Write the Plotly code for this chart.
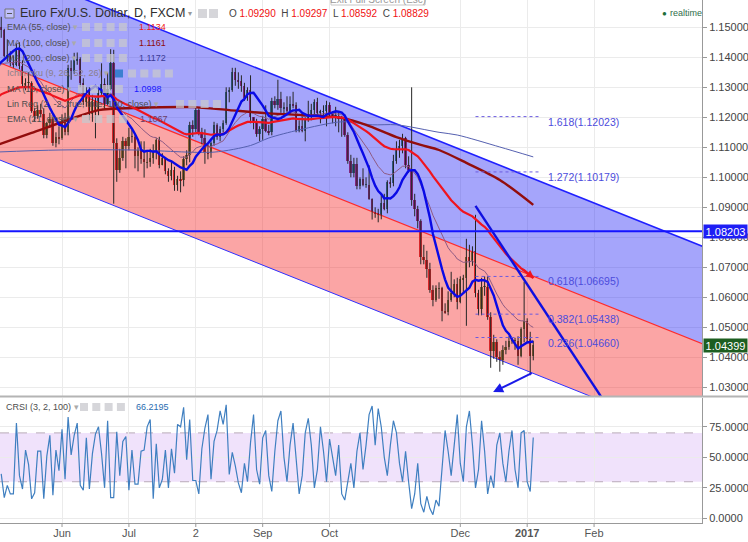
import plotly.graph_objects as go
import pandas as pd

# ---------------- data ----------------
# bar index 0 = 2016-05-02, one bar per business day, last bar 177 = 2017-01-04
opens = [1.1455,1.1530,1.1500,1.1490,1.1405,1.1405,1.1385,1.1375,1.1430,1.1370,
         1.1310,1.1315,1.1315,1.1220,1.1205,1.1225,1.1210,1.1140,1.1180,1.1195,
         1.1115,1.1135,1.1130,1.1190,1.1150,1.1365,1.1355,1.1390,1.1395,1.1315,
         1.1250,1.1285,1.1210,1.1255,1.1225,1.1280,1.1310,1.1245,1.1295,1.1380,
         1.1115,1.1025,1.1065,1.1120,1.1105,1.1135,1.1135,1.1070,1.1090,1.1060,
         1.1050,1.1050,1.1065,1.1090,1.1125,1.1040,1.1065,1.1020,1.1005,1.1025,
         1.0975,1.0995,1.0990,1.1060,1.1075,1.1175,1.1160,1.1225,1.1150,1.1130,
         1.1085,1.1080,1.1115,1.1175,1.1135,1.1160,1.1180,1.1285,1.1290,1.1350,
         1.1325,1.1320,1.1305,1.1265,1.1290,1.1200,1.1185,1.1145,1.1160,1.1195,
         1.1155,1.1150,1.1255,1.1240,1.1260,1.1230,1.1235,1.1220,1.1245,1.1240,
         1.1155,1.1170,1.1155,1.1190,1.1210,1.1225,1.1250,1.1215,1.1220,1.1220,
         1.1240,1.1210,1.1205,1.1205,1.1195,1.1200,1.1140,1.1055,1.1015,1.1045,
         1.0970,1.0995,1.0975,1.0975,1.0929,1.0883,1.0880,1.0875,1.0915,1.0895,
         1.0985,1.0980,1.1055,1.1095,1.1105,1.1130,1.1040,1.1025,1.0925,1.0895,
         1.0855,1.0735,1.0725,1.0695,1.0625,1.0590,1.0630,1.0630,1.0555,1.0550,
         1.0590,1.0615,1.0645,1.0585,1.0660,1.0665,1.0735,1.0720,1.0755,1.0615,
         1.0560,1.0635,1.0635,1.0535,1.0420,1.0450,1.0400,1.0390,1.0425,1.0435,
         1.0455,1.0455,1.0455,1.0405,1.0495,1.0520,1.0460,1.0405]
highs = [1.1536,1.1616,1.1535,1.1495,1.1460,1.1420,1.1405,1.1445,1.1450,1.1390,
         1.1330,1.1350,1.1320,1.1230,1.1240,1.1245,1.1230,1.1185,1.1215,1.1200,
         1.1150,1.1170,1.1210,1.1215,1.1375,1.1390,1.1415,1.1416,1.1400,1.1330,
         1.1300,1.1300,1.1275,1.1265,1.1295,1.1380,1.1330,1.1350,1.1427,1.1425,
         1.1130,1.1095,1.1135,1.1130,1.1165,1.1160,1.1140,1.1100,1.1120,1.1120,
         1.1085,1.1095,1.1110,1.1130,1.1135,1.1080,1.1065,1.1030,1.1055,1.1035,
         1.1005,1.1020,1.1070,1.1090,1.1185,1.1190,1.1235,1.1230,1.1165,1.1160,
         1.1110,1.1120,1.1185,1.1180,1.1170,1.1190,1.1300,1.1300,1.1365,1.1365,
         1.1350,1.1340,1.1315,1.1300,1.1340,1.1200,1.1195,1.1170,1.1205,1.1240,
         1.1175,1.1265,1.1270,1.1325,1.1285,1.1250,1.1270,1.1270,1.1285,1.1250,
         1.1190,1.1215,1.1200,1.1255,1.1245,1.1260,1.1265,1.1225,1.1240,1.1255,
         1.1250,1.1220,1.1235,1.1215,1.1205,1.1210,1.1150,1.1075,1.1065,1.1065,
         1.1000,1.1030,1.1000,1.1040,1.09297,1.0900,1.0895,1.0945,1.0945,1.0990,
         1.1000,1.1075,1.1120,1.1125,1.1145,1.1135,1.1070,1.1300,1.0945,1.0905,
         1.0860,1.0775,1.0755,1.0715,1.0640,1.0640,1.0650,1.0635,1.0580,1.0620,
         1.0685,1.0660,1.0665,1.0670,1.0675,1.0795,1.0775,1.0770,1.0875,1.0625,
         1.0665,1.0670,1.0670,1.0550,1.0475,1.0460,1.0420,1.0440,1.0455,1.0470,
         1.0465,1.0465,1.0470,1.0500,1.0652,1.0530,1.0485,1.0455]
lows = [1.1450,1.1495,1.1465,1.1400,1.1385,1.1370,1.1365,1.1370,1.1360,1.1300,
        1.1290,1.1300,1.1215,1.1185,1.1195,1.1200,1.1130,1.1130,1.1165,1.1105,
        1.1100,1.1110,1.1125,1.1140,1.1140,1.1325,1.1345,1.1375,1.1300,1.1240,
        1.1235,1.1190,1.1185,1.1130,1.1205,1.1275,1.1225,1.1240,1.1290,1.0912,
        1.0985,1.1015,1.1055,1.1030,1.1090,1.1115,1.1030,1.1020,1.1045,1.0999,
        1.1030,1.1035,1.1045,1.1060,1.1030,1.1040,1.1010,1.0985,1.0990,1.0955,
        1.0955,1.0950,1.0970,1.1040,1.1050,1.1135,1.1150,1.1140,1.1110,1.1045,
        1.1060,1.1065,1.1105,1.1125,1.1120,1.1150,1.1175,1.1250,1.1285,1.1305,
        1.1295,1.1285,1.1255,1.1255,1.1180,1.1160,1.1135,1.1120,1.1125,1.1150,
        1.1140,1.1140,1.1230,1.1225,1.1215,1.1200,1.1210,1.1210,1.1230,1.1150,
        1.1150,1.1150,1.1120,1.1185,1.1190,1.1205,1.1205,1.1180,1.1200,1.1170,
        1.1200,1.1180,1.1170,1.1150,1.1135,1.1135,1.1045,1.1000,1.1000,1.0960,
        1.0960,1.0970,1.0965,1.0925,1.08592,1.0865,1.0850,1.0860,1.0890,1.0880,
        1.0965,1.0970,1.1045,1.1065,1.1080,1.1030,1.1015,1.0905,1.0870,1.0830,
        1.0710,1.0710,1.0665,1.0615,1.0570,1.0585,1.0595,1.0520,1.0545,1.0540,
        1.0585,1.0600,1.0560,1.0580,1.0615,1.0505,1.0700,1.0705,1.0600,1.0540,
        1.0540,1.0605,1.0525,1.0365,1.0395,1.0385,1.0352,1.0375,1.0410,1.0425,
        1.0445,1.0425,1.0375,1.0400,1.0450,1.0450,1.0340,1.0390]
closes = [1.1530,1.1500,1.1490,1.1405,1.1405,1.1385,1.1375,1.1430,1.1370,1.1310,
          1.1315,1.1315,1.1220,1.1205,1.1225,1.1210,1.1140,1.1180,1.1195,1.1115,
          1.1135,1.1130,1.1190,1.1150,1.1365,1.1355,1.1390,1.1395,1.1315,1.1250,
          1.1285,1.1210,1.1255,1.1225,1.1280,1.1310,1.1245,1.1295,1.1380,1.1115,
          1.1025,1.1065,1.1120,1.1105,1.1135,1.1135,1.1070,1.1090,1.1060,1.1050,
          1.1050,1.1065,1.1090,1.1125,1.1040,1.1065,1.1020,1.1005,1.1025,1.0975,
          1.0995,1.0990,1.1060,1.1075,1.1175,1.1160,1.1225,1.1150,1.1130,1.1085,
          1.1080,1.1115,1.1175,1.1135,1.1160,1.1180,1.1285,1.1290,1.1350,1.1325,
          1.1320,1.1305,1.1265,1.1290,1.1200,1.1185,1.1145,1.1160,1.1195,1.1155,
          1.1150,1.1255,1.1240,1.1260,1.1230,1.1235,1.1220,1.1245,1.1240,1.1155,
          1.1170,1.1155,1.1190,1.1210,1.1225,1.1250,1.1215,1.1220,1.1220,1.1240,
          1.1210,1.1205,1.1205,1.1195,1.1200,1.1140,1.1055,1.1015,1.1045,1.0970,
          1.0995,1.0975,1.0975,1.0929,1.0883,1.0880,1.0875,1.0915,1.0895,1.0985,
          1.0980,1.1055,1.1095,1.1105,1.1130,1.1040,1.1025,1.0925,1.0895,1.0855,
          1.0735,1.0725,1.0695,1.0625,1.0590,1.0630,1.0630,1.0555,1.0550,1.0590,
          1.0615,1.0645,1.0585,1.0660,1.0665,1.0735,1.0720,1.0755,1.0615,1.0560,
          1.0635,1.0635,1.0535,1.0420,1.0450,1.0400,1.0390,1.0425,1.0435,1.0455,
          1.0455,1.0455,1.0405,1.0495,1.0520,1.0460,1.0405,1.0440]

month_tick_idx = [22, 44, 66, 88, 110, 153, 175, 197]
month_tick_text = ['Jun', 'Jul', '2', 'Sep', 'Oct', 'Dec', '<b>2017</b>', 'Feb']
price_ticks = [1.03, 1.04, 1.05, 1.06, 1.07, 1.08, 1.09, 1.10, 1.11, 1.12, 1.13, 1.14, 1.15]
crsi_ticks = [0, 25, 50, 75]

# moving-average readings
ma10_head = [1.1368, 1.1374, 1.1384, 1.1394, 1.1404, 1.1414, 1.1421, 1.1428, 1.1429]
ema21_seed = 1.1335
ema55_seed = 1.1250
ma100_idx = [0, 12, 24, 34, 46, 65, 77, 89, 100, 114, 122, 132, 140, 146, 155, 166, 177]
ma100_val = [1.1105, 1.1148, 1.1191, 1.1224, 1.1231, 1.1234, 1.1224, 1.1214, 1.1208,
             1.1198, 1.1175, 1.1134, 1.1108, 1.1091, 1.1048, 1.0991, 1.0908]
ma200_idx = [0, 21, 46, 72, 84, 90, 100, 114, 124, 132, 146, 152, 166, 177]
ma200_val = [1.1084, 1.1091, 1.1091, 1.1084, 1.1106, 1.1131, 1.1158, 1.1185, 1.1175,
             1.1175, 1.1150, 1.1141, 1.1101, 1.1068]

# regression channel (upper / middle / lower) end points
chan_idx = [0, 240]
chan_upper = [1.1713, 1.0740]
chan_mid = [1.1388, 1.0415]
chan_lower = [1.1064, 1.0091]

hline_level = 1.08203
last_price = 1.04399

fib_names = ['1.618', '1.272', '0.618', '0.382', '0.236']
fib_levels = [1.12023, 1.10179, 1.06695, 1.05438, 1.04660]
fib_span = [158, 179]

trend_idx = [158, 205]
trend_val = [1.0905, 1.0181]
arrow_tail = [177, 1.0350]
arrow_head = [163.8, 1.0284]

crsi_start = 2
crsi_vals = [36.5,17,27,20,20,78,35,24,56,44,16,21,55,55,16,51,68,19,56,39,73,32,83,52,68,78,27,23,
             66,24,53,69,75,53,25,80,17,17,71,35,63,67,23,56,28,28,55,56,75,81,16,61,25,32,56,25,
             57,37,77,75,91,48,81,31,31,20,57,74,85,32,63,72,88,77,93,36,54,43,29,21,
             45,30,62,85,40,28,66,72,35,22,55,80,88,50,30,60,78,45,20,35,70,82,60,25,40,75,55,30,65,
             50,35,60,20,15,30,45,25,55,70,40,60,85,92,60,90,75,50,35,60,80,70,45,30,55,
             30,8,20,45,12,5,18,8,3,15,10,40,72,55,35,
             60,85,45,30,75,88,60,25,40,80,55,20,35,25,60,70,45,30,55,72,40,25,70,72,30,22,66.2195]
crsi_band = [30, 70]

hover_ohlc = ['1.09290', '1.09297', '1.08592', '1.08829']
legend_rows = ['EMA (55, close)', 'MA (100, close)', 'MA (200, close)', 'Ichimoku (9, 26, 52, 26)',
               'MA (10, close)', 'Lin Reg (2, -2, true, true, 100, close)', 'EMA (21, close)']
legend_vals = ['1.1134', '1.1161', '1.1172', '', '1.0998', '', '1.1067']

# ---------------- indicators ----------------
n = len(closes)
idx = list(range(n))
cs = pd.Series(closes)
ma10 = list(ma10_head) + list(cs.rolling(10).mean().iloc[len(ma10_head):])
ema21 = list(pd.Series([ema21_seed] + closes).ewm(span=21, adjust=False).mean().iloc[1:])
ema55 = list(pd.Series([ema55_seed] + closes).ewm(span=55, adjust=False).mean().iloc[1:])

# ---------------- geometry helpers ----------------
W, H = 748, 542
ML, MR, MT, MB = 0, 46, 0, 19
PW, PH = W - ML - MR, H - MT - MB


def px(x):
    return x / PW


def py(y):
    return 1 - y / PH


FONT = 'Liberation Sans, Arial, sans-serif'
BLUE_LINE = '#1414ff'

fig = go.Figure()

# channel fills
fig.add_trace(go.Scatter(x=[chan_idx[0], chan_idx[1], chan_idx[1], chan_idx[0]],
                         y=[chan_upper[0], chan_upper[1], chan_mid[1], chan_mid[0]],
                         fill='toself', fillcolor='rgba(40,40,245,0.42)', line=dict(width=0),
                         mode='lines', hoverinfo='skip'))
fig.add_trace(go.Scatter(x=[chan_idx[0], chan_idx[1], chan_idx[1], chan_idx[0]],
                         y=[chan_mid[0], chan_mid[1], chan_lower[1], chan_lower[0]],
                         fill='toself', fillcolor='rgba(245,40,40,0.42)', line=dict(width=0),
                         mode='lines', hoverinfo='skip'))
fig.add_trace(go.Scatter(x=chan_idx, y=chan_upper, mode='lines', line=dict(color='#2020ff', width=1.6)))
fig.add_trace(go.Scatter(x=chan_idx, y=chan_mid, mode='lines', line=dict(color='#ff2a2a', width=1.2)))
fig.add_trace(go.Scatter(x=chan_idx, y=chan_lower, mode='lines', line=dict(color='#3030ff', width=1)))

# wicks
wx, wy = [], []
for i in idx:
    wx += [i, i, None]
    wy += [lows[i], highs[i], None]
fig.add_trace(go.Scatter(x=wx, y=wy, mode='lines', line=dict(color='#262626', width=1)))

# bodies
body_base = [min(o, c) for o, c in zip(opens, closes)]
body_h = [max(abs(c - o), 0.0001) for o, c in zip(opens, closes)]
body_col = ['#37853a' if c >= o else '#c3262a' for o, c in zip(opens, closes)]
fig.add_trace(go.Bar(x=idx, y=body_h, base=body_base, width=0.62,
                     marker=dict(color=body_col, line=dict(width=0))))

# moving averages
fig.add_trace(go.Scatter(x=ma200_idx, y=ma200_val, mode='lines',
                         line=dict(color='#5560b0', width=1, shape='spline', smoothing=0.8)))
fig.add_trace(go.Scatter(x=idx, y=ema21, mode='lines', line=dict(color='#8e5a84', width=1)))
fig.add_trace(go.Scatter(x=ma100_idx, y=ma100_val, mode='lines',
                         line=dict(color='#920d0d', width=2.4, shape='spline', smoothing=0.8)))
fig.add_trace(go.Scatter(x=idx, y=ema55, mode='lines', line=dict(color='#f0141e', width=2.2)))
fig.add_trace(go.Scatter(x=idx, y=ma10, mode='lines', line=dict(color='#0a0ae6', width=2.4)))

# trend line
fig.add_trace(go.Scatter(x=trend_idx, y=trend_val, mode='lines', line=dict(color='#1010e0', width=2.4)))

# fib levels
for lv in fib_levels:
    fig.add_trace(go.Scatter(x=fib_span, y=[lv, lv], mode='lines',
                             line=dict(color='#6a5ae0', width=1, dash='dot')))

# CRSI
fig.add_trace(go.Scatter(x=list(range(crsi_start, crsi_start + len(crsi_vals))), y=crsi_vals,
                         mode='lines', line=dict(color='#3f7fc0', width=1.2), yaxis='y2'))

shapes = []
annotations = []

# horizontal level
shapes.append(dict(type='line', xref='paper', yref='y', x0=0, x1=1, y0=hline_level, y1=hline_level,
                   line=dict(color=BLUE_LINE, width=2), layer='above'))
# CRSI band
shapes.append(dict(type='rect', xref='paper', yref='y2', x0=0, x1=1, y0=crsi_band[0], y1=crsi_band[1],
                   fillcolor='#f0e2fb', line=dict(width=0), layer='below'))
for b in crsi_band:
    shapes.append(dict(type='line', xref='paper', yref='y2', x0=0, x1=1, y0=b, y1=b,
                       line=dict(color='#b9aab9', width=1, dash='dash'), layer='below'))
# pane separator
shapes.append(dict(type='line', xref='paper', yref='paper', x0=0, x1=W / PW, y0=py(396.5), y1=py(396.5),
                   line=dict(color='#b4b4b4', width=2), layer='above'))
# x tick marks (drawn so the month labels can sit close to the axis)
for t in month_tick_idx:
    shapes.append(dict(type='line', xref='x', yref='paper', x0=t, x1=t, y0=py(523), y1=py(527),
                       line=dict(color='#999', width=1), layer='above'))

# arrows
annotations.append(dict(x=arrow_head[0], y=arrow_head[1], ax=arrow_tail[0], ay=arrow_tail[1],
                        xref='x', yref='y', axref='x', ayref='y', showarrow=True, arrowhead=2,
                        arrowsize=1, arrowwidth=2, arrowcolor='#1a1ae8', text=''))
annotations.append(dict(x=177.3, y=ema55[-1], ax=173, ay=ema55[-5], xref='x', yref='y', axref='x',
                        ayref='y', showarrow=True, arrowhead=2, arrowsize=0.8, arrowwidth=2,
                        arrowcolor='#f0141e', text=''))

# fib labels
for nm, lv in zip(fib_names, fib_levels):
    annotations.append(dict(x=181.2, y=lv, xref='x', yref='y', text=f'{nm}({lv:.5f})', showarrow=False,
                            xanchor='left', yanchor='middle', yshift=-5,
                            font=dict(family=FONT, size=10.5, color='#4c4cdc')))

# axis price labels
annotations.append(dict(x=1.0015, y=hline_level, xref='paper', yref='y', text=f'{hline_level:.5f}',
                        showarrow=False, xanchor='left', yanchor='middle', bgcolor='#1e1ef5',
                        width=43, height=13, borderpad=0,
                        font=dict(family=FONT, size=11, color='white')))
annotations.append(dict(x=1.0015, y=last_price, xref='paper', yref='y', text=f'{last_price:.5f}',
                        showarrow=False, xanchor='left', yanchor='middle', bgcolor='#1d5e20',
                        width=43, height=13, borderpad=0,
                        font=dict(family=FONT, size=11, color='white')))


def text_at(x, y, t, size, color, anchor='left'):
    annotations.append(dict(x=px(x), y=py(y), xref='paper', yref='paper', text=t, showarrow=False,
                            xanchor=anchor, yanchor='middle', font=dict(family=FONT, size=size, color=color)))


def btn(x0, yc, w=8, color='rgba(200,200,205,0.75)'):
    shapes.append(dict(type='rect', xref='paper', yref='paper', x0=px(x0), x1=px(x0 + w),
                       y0=py(yc + w / 2), y1=py(yc - w / 2), fillcolor=color,
                       line=dict(width=0), layer='above'))


# title row
shapes.append(dict(type='rect', xref='paper', yref='paper', x0=px(5), x1=px(14), y0=py(18), y1=py(9),
                   line=dict(color='#777', width=1), fillcolor='rgba(255,255,255,0.3)', layer='above'))
shapes.append(dict(type='line', xref='paper', yref='paper', x0=px(7), x1=px(12), y0=py(13.5), y1=py(13.5),
                   line=dict(color='#555', width=1), layer='above'))
text_at(18, 13.5, 'Euro Fx/U.S. Dollar, D, FXCM', 12.5, '#2f2f2f')
text_at(186, 13.5, '▾', 8, '#999')
btn(198, 13.5, 9)
btn(209, 13.5, 9)
ohlc_txt = ('O <span style="color:#f01010">%s</span>  H <span style="color:#f01010">%s</span>  '
            'L <span style="color:#f01010">%s</span>  C <span style="color:#f01010">%s</span>') % tuple(hover_ohlc)
text_at(227, 13.5, ohlc_txt, 10, '#444')
text_at(660, 13.5, '●', 8, '#1f6f3a')
text_at(668, 13.5, 'realtime', 9, '#2f6d4a')

# exit full screen tooltip (cut by the top edge)
shapes.append(dict(type='rect', xref='paper', yref='paper', x0=px(331), x1=px(425), y0=py(5), y1=py(-12),
                   fillcolor='white', line=dict(color='#c8c8c8', width=1), layer='above'))
text_at(378, -1, 'Exit Full Screen (Esc)', 10, '#999', anchor='center')

# indicator legend rows
row_y = [27, 43, 58, 73.5, 89, 104, 119]
val_x = [137, 137, 137, None, 132, None, 138]
val_col = ['#f01818', '#8e0c0c', '#3a3a96', None, '#1a1aff', None, '#6a3d66']
btn_x = [82, 82, 82, 128, 78, 176, 82]
for k, (lab, yv) in enumerate(zip(legend_rows, row_y)):
    col = '#8a7f8a' if k == 3 else '#4e4e4e'
    text_at(5, yv, lab + ' <span style="color:#aaa">▾</span>', 9, col)
    for b in range(4):
        btn(btn_x[k] + b * 12.3, yv)
    if legend_vals[k]:
        text_at(val_x[k], yv, legend_vals[k], 9, val_col[k])
btn(115, 73.5, 8, '#3b7fd0')

# CRSI legend
text_at(4, 407, 'CRSI (3, 2, 100) <span style="color:#aaa">▾</span>', 9, '#4e4e4e')
for b in range(4):
    btn(80 + b * 12.3, 407)
text_at(134, 407, f'{crsi_vals[-1]:.4f}', 9, '#2a6cb0')

fig.update_layout(
    width=W, height=H, margin=dict(l=ML, r=MR, t=MT, b=MB),
    paper_bgcolor='white', plot_bgcolor='white', showlegend=False, hovermode=False,
    bargap=0, shapes=shapes, annotations=annotations,
    font=dict(family=FONT, size=11, color='#555'),
    xaxis=dict(range=[1.6, 232.5], tickvals=month_tick_idx, ticktext=month_tick_text,
               showgrid=True, gridcolor='#ebebeb', gridwidth=1, zeroline=False,
               ticks='', showline=True, linecolor='#999',
               anchor='y2', tickfont=dict(family=FONT, size=11, color='#555'),
               rangeslider=dict(visible=False), fixedrange=True),
    yaxis=dict(domain=[1 - 396 / PH, 1], range=[1.0271, 1.1591], side='right', tickvals=price_ticks,
               tickformat='.5f', showgrid=True, gridcolor='#ebebeb', zeroline=False,
               ticks='outside', ticklen=4, tickcolor='#999', showline=True, linecolor='#999',
               anchor='x', tickfont=dict(family=FONT, size=11, color='#444')),
    yaxis2=dict(domain=[0, 1 - 397.5 / PH], range=[-3.8, 99], side='right', tickvals=crsi_ticks,
                tickformat='.4f', showgrid=True, gridcolor='#ebebeb', zeroline=False,
                ticks='outside', ticklen=4, tickcolor='#999', showline=True, linecolor='#999',
                anchor='x', tickfont=dict(family=FONT, size=11, color='#444')),
)

fig.write_html('out.html', config={'displayModeBar': False},
               post_script="document.body.style.margin='0px';document.body.style.overflow='hidden';")
